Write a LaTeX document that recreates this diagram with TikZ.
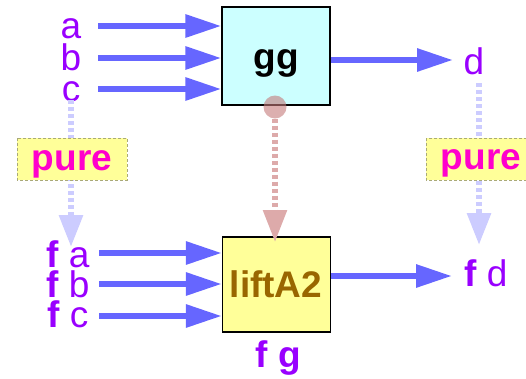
\documentclass[tikz,border=0pt]{standalone}
\usepackage{fontspec}
\setmainfont{Liberation Sans}
\usetikzlibrary{arrows.meta}
\definecolor{lettercol}{HTML}{9900FF}
\definecolor{flowcol}{HTML}{6666FF}
\definecolor{purecol}{HTML}{CCCCFF}
\definecolor{liftcol}{HTML}{DDAAAA}
\definecolor{dotcol}{HTML}{C47A7A}
\definecolor{ggfill}{HTML}{CCFFFF}
\definecolor{liftfill}{HTML}{FFFF99}
\definecolor{lifttext}{HTML}{996600}
\definecolor{puretext}{HTML}{FF00CC}
\definecolor{purefill}{HTML}{FFFF99}
\definecolor{pureedge}{HTML}{AAAA77}

\begin{document}
\begin{tikzpicture}[x=1pt,y=-1pt,
  big/.style={font=\fontsize{37}{37}\selectfont},
  letter/.style={big, text=lettercol, inner sep=0pt, anchor=base},
  funcbox/.style={draw=black, line width=1.3pt, minimum width=108pt, inner sep=0pt},
  flowarrow/.style={draw=flowcol, line width=6pt, -{Triangle[length=36pt,width=22pt]}},
  purearrow/.style={draw=purecol, line width=6pt, dash pattern=on 4pt off 3pt,
    -{Triangle[length=32pt,width=23pt]}},
  liftarrow/.style={draw=liftcol, line width=5.5pt, dash pattern=on 4pt off 3pt,
    -{Triangle[length=32pt,width=23pt]}},
  purebox/.style={fill=purefill, draw=pureedge, line width=0.8pt, dash pattern=on 3pt off 2pt},
  puretxt/.style={big, text=puretext, font=\fontsize{37}{37}\selectfont\bfseries, inner sep=0pt, anchor=base},
]
\useasboundingbox (0,0) rectangle (526,378);

% plain values and their lifted versions
\node[letter] (a) at (71,38) {a};
\node[letter] (b) at (71,70) {b};
\node[letter] (c) at (71,101) {c};
\node[letter] (d) at (474,74) {d};
\node[letter, anchor=base west] (fa) at (46,267) {\textbf{f} a};
\node[letter, anchor=base west] (fb) at (46,297) {\textbf{f} b};
\node[letter, anchor=base west] (fc) at (47,327) {\textbf{f} c};
\node[letter, anchor=base west] (fd) at (464,286) {\textbf{f} d};

% the two functions
\node[funcbox, fill=ggfill, minimum height=98pt] (gg) at (276,56) {};
\node[big, font=\fontsize{37}{37}\selectfont\bfseries, inner sep=0pt, anchor=base] (ggtxt) at (276,69) {gg};
\node[funcbox, fill=liftfill, minimum height=95pt] (lift) at (276.5,284.5) {};
\node[big, font=\fontsize{37}{37}\selectfont\bfseries, text=lifttext, inner sep=0pt, anchor=base] (lifttxt) at (276,297) {liftA2};
\node[letter, font=\fontsize{37}{37}\selectfont\bfseries, anchor=base] (fg) at (278.5,367) {f g};

% pure: lifting values into the functor
\coordinate (cstart) at (71,100);
\coordinate (ctip) at (71,247);
\coordinate (dstart) at (479,83);
\coordinate (dtip2) at (479,245);
\draw[purearrow] (cstart) -- (ctip);
\draw[purearrow] (dstart) -- (dtip2);
\draw[purebox] (17,138) rectangle (127,180);
\node[puretxt] (pureL) at (72,170) {pure};
\draw[purebox] (426,138) rectangle (527,180);
\node[puretxt] (pureR) at (481,169) {pure};

% input and output flows
\coordinate (sa) at (98,26);
\coordinate (sb) at (98,58);
\coordinate (sc) at (98,89);
\draw[flowarrow] (sa) -- (sa -| gg.west);
\draw[flowarrow] (sb) -- (sb -| gg.west);
\draw[flowarrow] (sc) -- (sc -| gg.west);
\coordinate (dtip) at (453,60);
\draw[flowarrow] (dtip -| gg.east) -- (dtip);

\coordinate (sfa) at (99,253);
\coordinate (sfb) at (99,284);
\coordinate (sfc) at (99,316);
\draw[flowarrow] (sfa) -- (sfa -| lift.west);
\draw[flowarrow] (sfb) -- (sfb -| lift.west);
\draw[flowarrow] (sfc) -- (sfc -| lift.west);
\coordinate (fdtip) at (452,276);
\draw[flowarrow] (fdtip -| lift.east) -- (fdtip);

% gg is lifted into liftA2
\node[circle, fill=dotcol, fill opacity=0.6, minimum size=23pt, inner sep=0pt] (knob) at (275,107) {};
\coordinate (lifttip) at (275,242);
\draw[liftarrow] (knob.south) -- (lifttip);
\end{tikzpicture}
\end{document}
